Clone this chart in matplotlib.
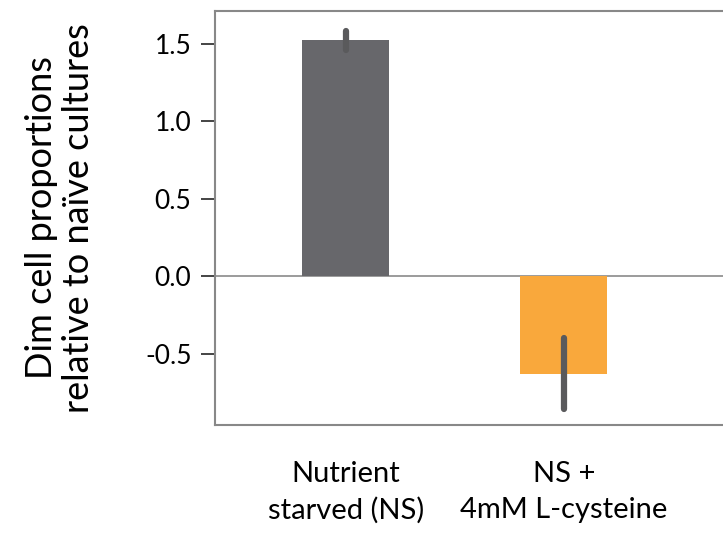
import matplotlib
matplotlib.use("Agg")
import matplotlib.pyplot as plt

categories = ["Nutrient\nstarved (NS)", "NS +\n4mM L-cysteine"]
means = [1.52, -0.63]
errors = [0.06, 0.23]
colors = ["#67676b", "#f9a83c"]
yticks = [-0.5, 0.0, 0.5, 1.0, 1.5]

plt.rcParams['font.family'] = ['Lato', 'DejaVu Sans']

fig = plt.figure(figsize=(7.23, 5.33), dpi=100)
ax = fig.add_axes([215/723, 1 - 425/533, 1 - 215/723, (425 - 11)/533])

x = list(range(len(categories)))
ax.bar(x, means, width=0.4, color=colors, zorder=2)
eb = ax.errorbar(x, means, yerr=errors, fmt='none', ecolor='#5a5a5c',
                 elinewidth=4.5, capsize=0, zorder=3)
eb[2][0].set_capstyle('round')

ax.axhline(0, color='#8a8a8a', lw=1.2, zorder=1)

ax.set_xlim(-0.6, 1.73)
ax.set_ylim(-0.96, 1.71)
ax.set_yticks(yticks)
ax.set_yticklabels([f"{v:.1f}" for v in yticks], fontsize=19)
ax.set_xticks(x)
ax.set_xticklabels(categories, fontsize=21, linespacing=1.45)
ax.tick_params(axis='x', length=0, pad=26)
ax.tick_params(axis='y', length=10, width=1.4, color='#444444', pad=7)

for side in ['left', 'top', 'bottom']:
    ax.spines[side].set_color('#888888')
    ax.spines[side].set_linewidth(1.5)
ax.spines['right'].set_visible(False)

ax.set_ylabel("Dim cell proportions\nrelative to naïve cultures", fontsize=26,
              linespacing=1.15, labelpad=36)

fig.savefig("out.png", dpi=100)
